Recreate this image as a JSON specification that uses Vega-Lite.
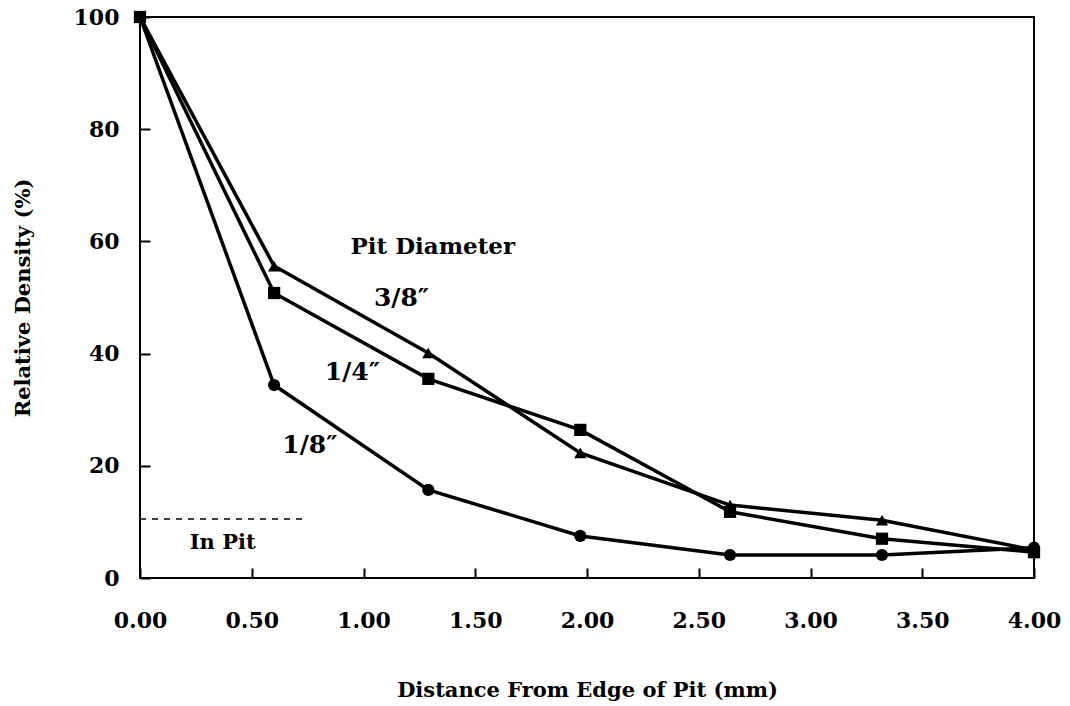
{
  "$schema": "https://vega.github.io/schema/vega-lite/v6.json",
  "width": 894,
  "height": 561,
  "autosize": {"type": "none"},
  "padding": {"left": 140, "top": 17, "right": 36, "bottom": 128},
  "background": "white",
  "config": {
    "view": {"stroke": "black", "strokeWidth": 2},
    "font": "DejaVu Serif",
    "axis": {
      "labelFont": "DejaVu Serif", "labelFontSize": 22, "labelFontWeight": "bold", "labelColor": "black",
      "titleFont": "DejaVu Serif", "titleFontSize": 21, "titleFontWeight": "bold", "titleColor": "black",
      "domain": false, "tickColor": "black", "tickWidth": 2, "tickSize": 10, "offset": -10, "grid": false,
      "labelFlush": false
    }
  },
  "datasets": {
    "series": [
      {"dist": 0.0, "density": 100, "pit": "3/8\""},
      {"dist": 0.6, "density": 55.6, "pit": "3/8\""},
      {"dist": 1.29, "density": 40.1, "pit": "3/8\""},
      {"dist": 1.97, "density": 22.3, "pit": "3/8\""},
      {"dist": 2.64, "density": 13.0, "pit": "3/8\""},
      {"dist": 3.32, "density": 10.3, "pit": "3/8\""},
      {"dist": 4.0, "density": 5.0, "pit": "3/8\""},
      {"dist": 0.0, "density": 100, "pit": "1/4\""},
      {"dist": 0.6, "density": 50.8, "pit": "1/4\""},
      {"dist": 1.29, "density": 35.5, "pit": "1/4\""},
      {"dist": 1.97, "density": 26.4, "pit": "1/4\""},
      {"dist": 2.64, "density": 11.8, "pit": "1/4\""},
      {"dist": 3.32, "density": 7.0, "pit": "1/4\""},
      {"dist": 4.0, "density": 4.6, "pit": "1/4\""},
      {"dist": 0.0, "density": 100, "pit": "1/8\""},
      {"dist": 0.6, "density": 34.4, "pit": "1/8\""},
      {"dist": 1.29, "density": 15.7, "pit": "1/8\""},
      {"dist": 1.97, "density": 7.5, "pit": "1/8\""},
      {"dist": 2.64, "density": 4.1, "pit": "1/8\""},
      {"dist": 3.32, "density": 4.1, "pit": "1/8\""},
      {"dist": 4.0, "density": 5.4, "pit": "1/8\""}
    ],
    "labels": [
      {"x": 1.31, "y": 59, "text": "Pit Diameter", "size": 23},
      {"x": 1.17, "y": 50, "text": "3/8\u2033", "size": 25},
      {"x": 0.95, "y": 36.7, "text": "1/4\u2033", "size": 25},
      {"x": 0.76, "y": 23.7, "text": "1/8\u2033", "size": 25},
      {"x": 0.37, "y": 6.2, "text": "In Pit", "size": 21}
    ],
    "pitline": [{"x": 0.0, "x2": 0.75, "y": 10.5}]
  },
  "layer": [
    {
      "data": {"name": "series"},
      "mark": {"type": "line", "color": "black", "strokeWidth": 3.5},
      "encoding": {
        "x": {"field": "dist", "type": "quantitative", "scale": {"domain": [0, 4], "nice": false},
              "axis": {"values": [0, 0.5, 1, 1.5, 2, 2.5, 3, 3.5, 4], "format": ".2f", "labelPadding": 32,
                       "title": "Distance From Edge of Pit (mm)", "titlePadding": 48}},
        "y": {"field": "density", "type": "quantitative", "scale": {"domain": [0, 100], "nice": false},
              "axis": {"values": [0, 20, 40, 60, 80, 100], "labelPadding": 21,
                       "title": "Relative Density (%)", "titlePadding": 40}},
        "detail": {"field": "pit"}
      }
    },
    {
      "data": {"name": "series"},
      "mark": {"type": "point", "filled": true, "color": "black", "opacity": 1, "size": 150},
      "encoding": {
        "x": {"field": "dist", "type": "quantitative"},
        "y": {"field": "density", "type": "quantitative"},
        "shape": {"field": "pit", "type": "nominal",
                  "scale": {"domain": ["3/8\"", "1/4\"", "1/8\""], "range": ["triangle-up", "square", "circle"]},
                  "legend": null}
      }
    },
    {
      "data": {"name": "pitline"},
      "mark": {"type": "rule", "color": "black", "strokeWidth": 1.5, "strokeDash": [6, 6]},
      "encoding": {
        "x": {"field": "x", "type": "quantitative"},
        "x2": {"field": "x2"},
        "y": {"field": "y", "type": "quantitative"}
      }
    },
    {
      "data": {"name": "labels"},
      "mark": {"type": "text", "font": "DejaVu Serif", "fontWeight": "bold", "color": "black", "baseline": "middle", "align": "center"},
      "encoding": {
        "x": {"field": "x", "type": "quantitative"},
        "y": {"field": "y", "type": "quantitative"},
        "text": {"field": "text"},
        "size": {"field": "size", "type": "quantitative", "scale": null}
      }
    }
  ]
}
